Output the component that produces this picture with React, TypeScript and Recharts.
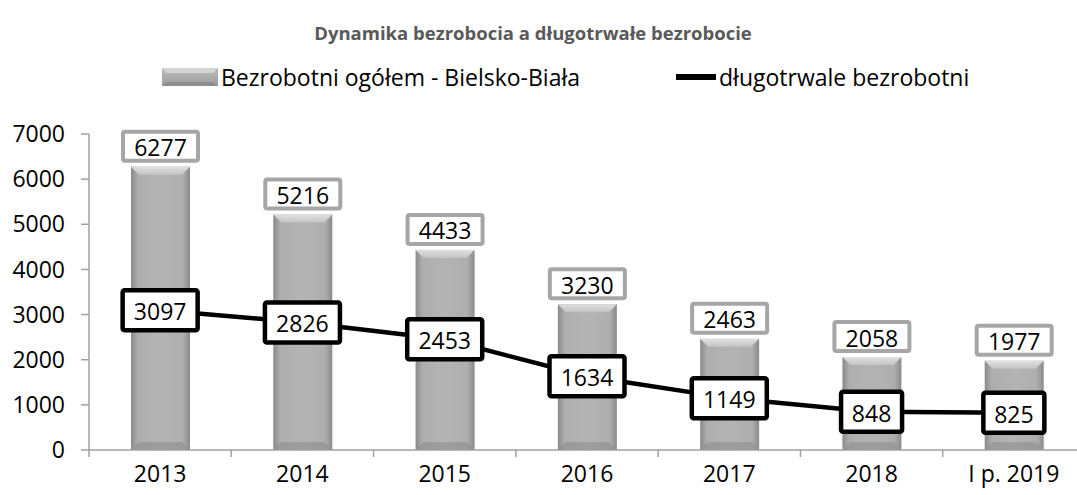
import React from "react";
import { ComposedChart, Bar, Line, XAxis, YAxis, Legend, LabelList } from "recharts";

const years: string[] = ["2013", "2014", "2015", "2016", "2017", "2018", "I p. 2019"];
const totalUnemployed: number[] = [6277, 5216, 4433, 3230, 2463, 2058, 1977];
const longTermUnemployed: number[] = [3097, 2826, 2453, 1634, 1149, 848, 825];
const yTicks: number[] = [0, 1000, 2000, 3000, 4000, 5000, 6000, 7000];

const TITLE = "Dynamika bezrobocia a długotrwałe bezrobocie";
const BAR_NAME = "Bezrobotni ogółem - Bielsko-Biała";
const LINE_NAME = "długotrwale bezrobotni";

const data = years.map((year, i) => ({
  year,
  total: totalUnemployed[i],
  longTerm: longTermUnemployed[i]
}));

const FONT = "'Open Sans', sans-serif";
const AXIS_COLOR = "#a0a0a0";
const FS = 23;

// bar with a little bevel on top, like the office chart style
const BevelBar = (props: any) => {
  const { x, y, width, height } = props;
  if (!height || height <= 0) return null;
  const b = Math.min(8, height / 2);
  return (
    <g>
      <rect x={x} y={y} width={width} height={height} fill="url(#barGrad)" />
      <polygon
        points={`${x},${y} ${x + width},${y} ${x + width - b},${y + b} ${x + b},${y + b}`}
        fill="url(#bevelGrad)"
      />
      <polygon
        points={`${x},${y + height} ${x + width},${y + height} ${x + width - b},${y + height - b} ${x + b},${y + height - b}`}
        fill="#8e8e8e"
        opacity={0.6}
      />
    </g>
  );
};

const boxWidth = (text: string) => text.length * 14 + 19;

const BarLabel = (props: any) => {
  const { x, y, width, value } = props;
  const text = String(value);
  const w = boxWidth(text);
  const h = 29;
  const cx = x + width / 2;
  const top = y - 6 - h;
  return (
    <g>
      <rect x={cx - w / 2} y={top} width={w} height={h} rx={2} fill="#fff" stroke="#a6a6a6" strokeWidth={4} />
      <text x={cx} y={top + h / 2 + 1} textAnchor="middle" dominantBaseline="central" fontFamily={FONT} fontSize={FS} fill="#000">
        {text}
      </text>
    </g>
  );
};

const LineLabel = (props: any) => {
  const { x, y, value } = props;
  const text = String(value);
  const w = boxWidth(text);
  const h = 40;
  return (
    <g>
      <rect x={x - w / 2} y={y - h / 2} width={w} height={h} rx={2} fill="#fff" stroke="#000" strokeWidth={4.5} />
      <text x={x} y={y + 1} textAnchor="middle" dominantBaseline="central" fontFamily={FONT} fontSize={FS} fill="#000">
        {text}
      </text>
    </g>
  );
};

// category ticks sit between the bars, labels in the middle
const XTick = (props: any) => {
  const { x, y, payload } = props;
  const half = payload && payload.offset ? payload.offset : 71;
  return (
    <g>
      <line x1={x - half} y1={y - 8} x2={x - half} y2={y - 1} stroke={AXIS_COLOR} strokeWidth={1.5} />
      <text x={x} y={y + 24} textAnchor="middle" fontFamily={FONT} fontSize={FS} fill="#000">
        {payload.value}
      </text>
    </g>
  );
};

const LegendContent = () => (
  <div style={{ display: "flex", alignItems: "center", fontFamily: FONT, fontSize: FS, color: "#000", paddingLeft: 162, lineHeight: "30px" }}>
    <svg width={56} height={18} style={{ marginRight: 3 }}>
      <rect x={0} y={0} width={56} height={18} fill="url(#legendGrad)" />
      <polygon points="0,0 56,0 51,5 5,5" fill="#d4d4d4" />
      <polygon points="0,18 56,18 51,14 5,14" fill="#8e8e8e" />
    </svg>
    <span>{BAR_NAME}</span>
    <svg width={40} height={8} style={{ marginLeft: 96, marginRight: 3 }}>
      <rect x={0} y={1} width={40} height={6} fill="#000" />
    </svg>
    <span>{LINE_NAME}</span>
  </div>
);

const App = () => {
  return (
    <div style={{ position: "absolute", left: 0, top: 0, width: 1077, height: 495, overflow: "hidden", background: "#fff" }}>
      <svg width={0} height={0} style={{ position: "absolute" }}>
        <defs>
          <linearGradient id="legendGrad" x1="0" y1="0" x2="0" y2="1">
            <stop offset="0" stopColor="#bdbdbd" />
            <stop offset="1" stopColor="#9c9c9c" />
          </linearGradient>
        </defs>
      </svg>
      <div
        style={{
          position: "absolute",
          top: 20,
          left: 0,
          width: 1066,
          textAlign: "center",
          fontFamily: FONT,
          fontWeight: 700,
          fontSize: 18.5,
          color: "#595959"
        }}
      >
        {TITLE}
      </div>
      <ComposedChart
        width={1100}
        height={495}
        data={data}
        margin={{ top: 104, right: 15, bottom: 0, left: 0 }}
      >
        <defs>
          <linearGradient id="barGrad" x1="0" y1="0" x2="1" y2="0">
            <stop offset="0" stopColor="#8a8a8a" />
            <stop offset="0.12" stopColor="#aeaeae" />
            <stop offset="0.5" stopColor="#b4b4b4" />
            <stop offset="0.88" stopColor="#aeaeae" />
            <stop offset="1" stopColor="#8a8a8a" />
          </linearGradient>
          <linearGradient id="bevelGrad" x1="0" y1="0" x2="0" y2="1">
            <stop offset="0" stopColor="#e0e0e0" />
            <stop offset="1" stopColor="#c4c4c4" />
          </linearGradient>
        </defs>
        <Legend
          verticalAlign="top"
          content={<LegendContent />}
          wrapperStyle={{ position: "absolute", top: 62, left: 0, width: 1077, height: 30 }}
        />
        <XAxis
          dataKey="year"
          height={45}
          axisLine={{ stroke: AXIS_COLOR, strokeWidth: 1.5 }}
          tickLine={false}
          tick={<XTick />}
          interval={0}
        />
        <YAxis
          width={89}
          domain={[0, 7000]}
          ticks={yTicks}
          interval={0}
          axisLine={{ stroke: AXIS_COLOR, strokeWidth: 1.5 }}
          tickLine={{ stroke: AXIS_COLOR, strokeWidth: 1.5 }}
          tickSize={8}
          tickMargin={16}
          tick={{ fontFamily: FONT, fontSize: FS, fill: "#000" }}
        />
        <Bar dataKey="total" name={BAR_NAME} barSize={59} shape={<BevelBar />} isAnimationActive={false}>
          <LabelList dataKey="total" content={<BarLabel />} />
        </Bar>
        <Line
          dataKey="longTerm"
          name={LINE_NAME}
          type="linear"
          stroke="#000"
          strokeWidth={4.5}
          dot={false}
          activeDot={false}
          isAnimationActive={false}
        >
          <LabelList dataKey="longTerm" content={<LineLabel />} />
        </Line>
      </ComposedChart>
    </div>
  );
};

export default App;
